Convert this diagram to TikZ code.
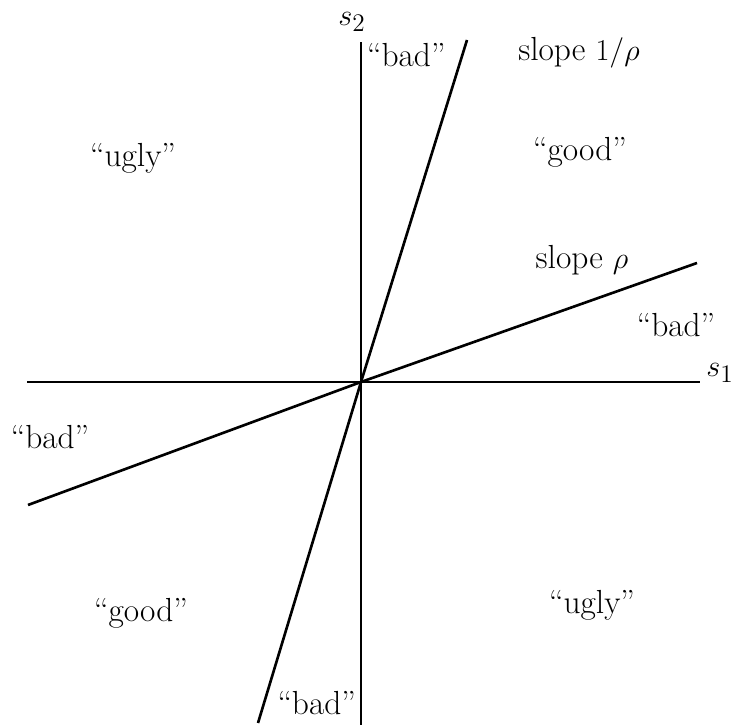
\documentclass[tikz,border=0pt]{standalone}
\usepackage{amsmath}
\usepackage{tikz}
\usetikzlibrary{positioning, calc}

\begin{document}
\begin{tikzpicture}[
    axis/.style={
        draw=black,
        line width=1.5pt
    },
    region/.style={
        font=\fontsize{19pt}{23pt}\selectfont,
        inner sep=1pt
    }
]
\useasboundingbox (0,0) rectangle (14.7,14.5);

% Coordinates
\coordinate (O) at (7.22,6.86);
\coordinate (west) at (0.54,6.86);
\coordinate (east) at (14.0,6.86);
\coordinate (north) at (7.22,13.66);
\coordinate (south) at (7.22,0);
\coordinate (steepTop) at (9.34,13.7);
\coordinate (steepBot) at (5.16,0.04);
\coordinate (flatTop) at (13.94,9.24);
\coordinate (flatBot) at (0.56,4.4);

% Lines through the origin
\draw[axis] (west) -- (east);
\draw[axis] (south) -- (north);
\draw[axis] (steepBot) -- (O) -- (steepTop);
\draw[axis] (flatBot) -- (O) -- (flatTop);

% Axis labels
\node[region] (sone) at (14.4,7.04) {$s_1$};
\node[region] (stwo) at (7.04,14.06) {$s_2$};

% Slope labels
\node[region] (slopeinv) at (11.58,13.44) {slope $1/\rho$};
\node[region] (slope) at (11.64,9.3) {slope $\rho$};

% Regions
\node[region, anchor=west] (badN) at (7.3,13.4) {``bad''};
\node[region] (badE) at (13.52,8.0) {``bad''};
\node[region] (badW) at (1.0,5.76) {``bad''};
\node[region, anchor=east] (badS) at (7.16,0.44) {``bad''};
\node[region] (goodNE) at (11.6,11.46) {``good''};
\node[region] (goodSW) at (2.82,2.24) {``good''};
\node[region] (uglyNW) at (2.66,11.34) {``ugly''};
\node[region] (uglySE) at (11.84,2.4) {``ugly''};

\end{tikzpicture}
\end{document}
